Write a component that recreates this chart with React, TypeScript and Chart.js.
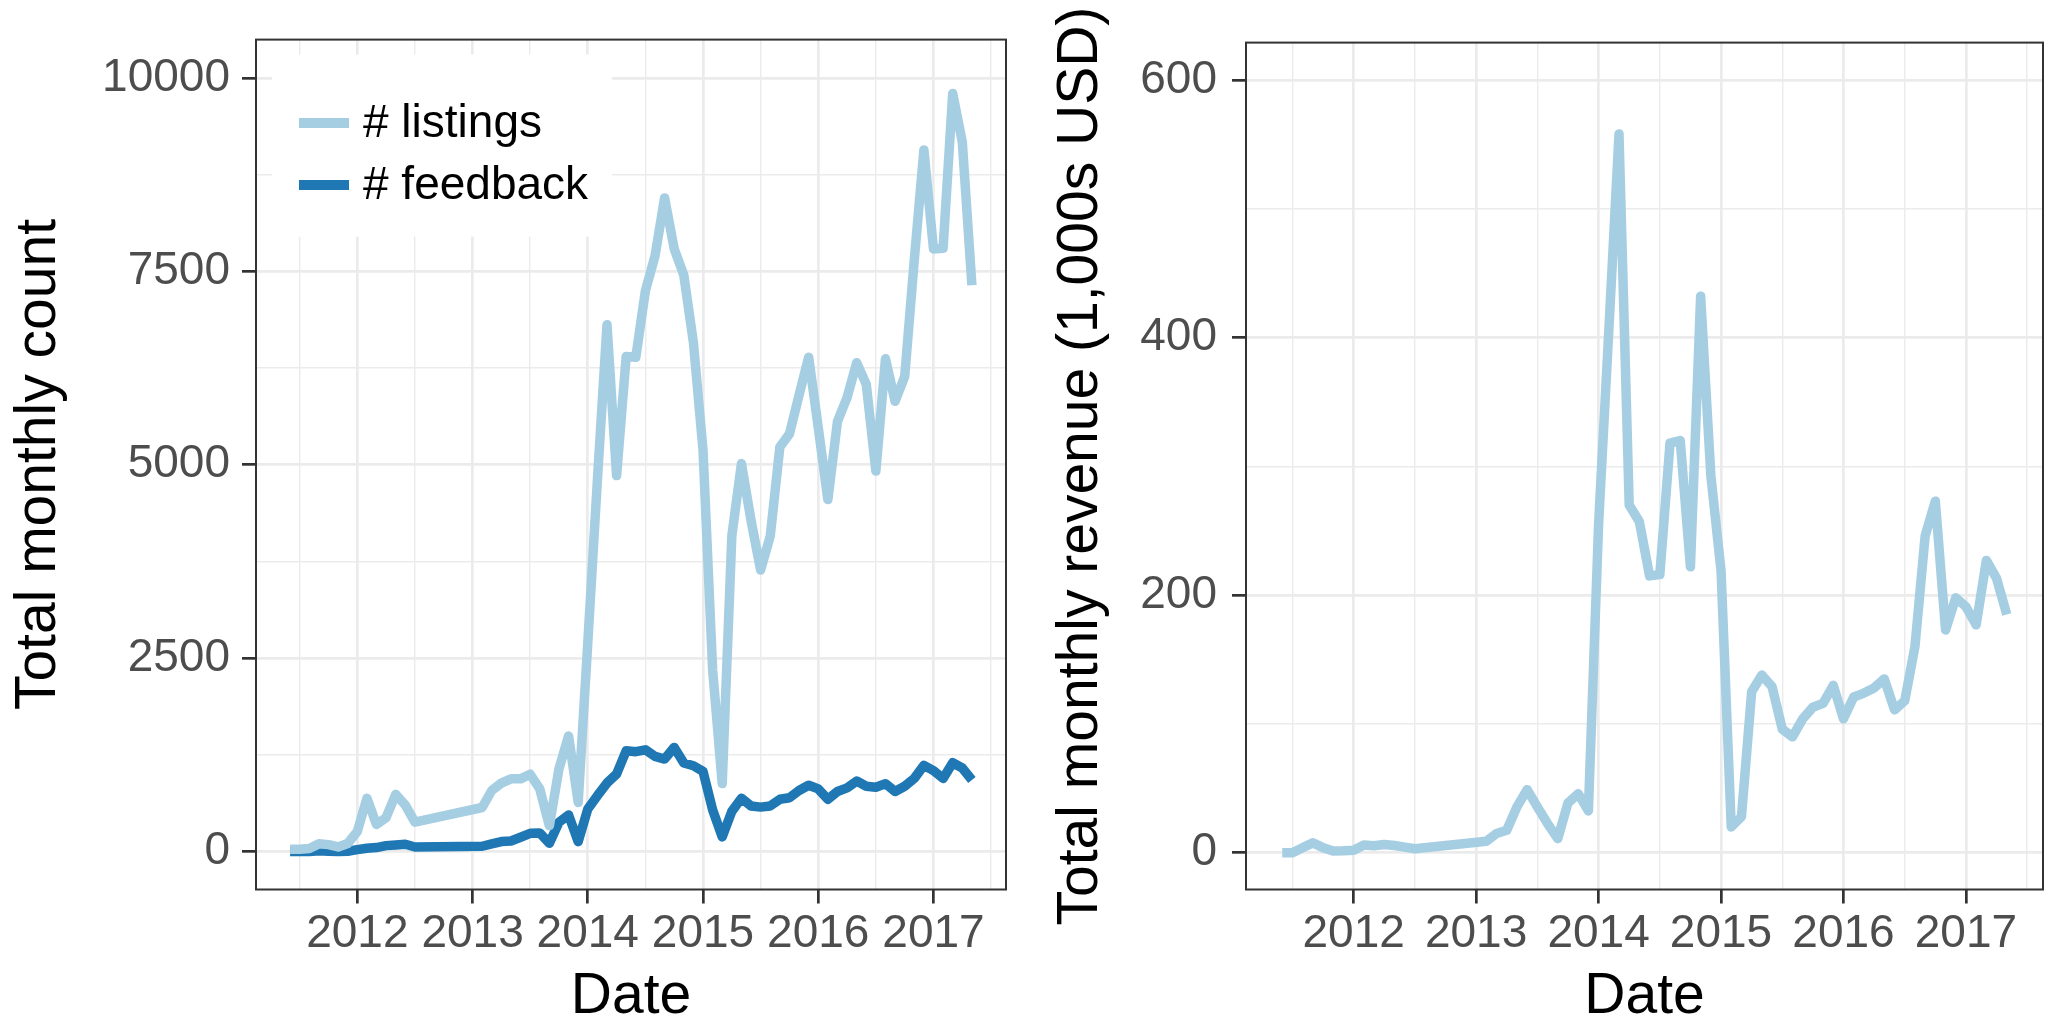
import React, { useEffect, useRef } from "react";
import { Chart, registerables } from "chart.js";

Chart.register(...registerables);

// ---------------- data ----------------
const months = [
  "2011-06", "2011-07", "2011-08", "2011-09", "2011-10", "2011-11", "2011-12",
  "2012-01", "2012-02", "2012-03", "2012-04", "2012-05", "2012-06", "2012-07",
  "2013-02", "2013-03", "2013-04", "2013-05", "2013-06", "2013-07", "2013-08", "2013-09", "2013-10", "2013-11", "2013-12",
  "2014-01", "2014-02", "2014-03", "2014-04", "2014-05", "2014-06", "2014-07", "2014-08", "2014-09", "2014-10", "2014-11", "2014-12",
  "2015-01", "2015-02", "2015-03", "2015-04", "2015-05", "2015-06", "2015-07", "2015-08", "2015-09", "2015-10", "2015-11", "2015-12",
  "2016-01", "2016-02", "2016-03", "2016-04", "2016-05", "2016-06", "2016-07", "2016-08", "2016-09", "2016-10", "2016-11", "2016-12",
  "2017-01", "2017-02", "2017-03", "2017-04", "2017-05",
];

const listings = [
  30, 30, 40, 100, 90, 60, 105,
  260, 690, 350, 440, 740, 600, 380,
  570, 790, 885, 940, 940, 1000, 810, 335, 1070, 1495, 636,
  2700, 4800, 6810, 4860, 6400, 6390, 7250, 7700, 8450, 7790, 7450, 6580,
  5190, 2350, 880, 4080, 5015, 4280, 3640, 4080, 5230, 5400, 5900, 6390,
  5480, 4550, 5560, 5870, 6320, 6040, 4920, 6370, 5820, 6140, 7650, 9070,
  7790, 7800, 9800, 9170, 7320,
];

const feedback = [
  0, 0, 0, 10, 5, 0, 5,
  25, 43, 52, 77, 86, 95, 60,
  69, 99, 129, 137, 185, 236, 240, 107, 378, 473, 129,
  551, 723, 886, 1003, 1304, 1291, 1316, 1231, 1196, 1347, 1145, 1110,
  1037, 540, 190, 520, 690, 590, 575, 590, 676, 696, 790, 858,
  810, 676, 777, 824, 912, 845, 831, 878, 777, 845, 946, 1115,
  1047, 946, 1148, 1081, 926,
];

const revenue = [
  0, 0, 4, 7.7, 4, 1.3, 1.5,
  2, 6, 5.4, 6.4, 5.7, 4.4, 3.1,
  9, 15, 17.5, 35.6, 49, 35.6, 22.7, 11, 38.7, 45.9, 32.5,
  255, 405, 558, 270, 257, 215, 216, 318, 320, 222, 432, 293,
  219, 20, 28, 125, 138, 129, 96, 90, 104, 113, 116, 130,
  104, 121, 124, 128, 135, 111, 118, 160, 246, 273, 173, 198,
  191, 177, 227, 213, 185,
];

const yearTicks = [2012, 2013, 2014, 2015, 2016, 2017];
const countTicks = [0, 2500, 5000, 7500, 10000];
const revenueTicks = [0, 200, 400, 600];
const countRange = [-490, 10496];
const revenueRange = [-28.5, 629];

const seriesLabels = ["# listings", "# feedback"];
const countTitle = "Total monthly count";
const revenueTitle = "Total monthly revenue (1,000s USD)";
const xTitle = "Date";

// ---------------- helpers ----------------
const FONT = '"Liberation Sans", Arial, Helvetica, sans-serif';
const LIGHT = "#A6CEE3";
const DARK = "#1F78B4";
const GRID = "#EBEBEB";
const AXIS = "#333333";
const TICKTXT = "#4D4D4D";

const toYear = (m: string) => {
  const [y, mo] = m.split("-").map(Number);
  return y + (mo - 1) / 12;
};
const xs = months.map(toYear);
const xMin = Math.min(...xs);
const xMax = Math.max(...xs);
const xPad = (xMax - xMin) * 0.05;
const xLo = xMin - xPad;
const xHi = xMax + xPad;

function withMinor(majors: number[], lo: number, hi: number) {
  const step = majors[1] - majors[0];
  const out: number[] = [];
  const start = majors[0] - step;
  for (let v = start; v <= majors[majors.length - 1] + step + 1e-9; v += step / 2) {
    if (v >= lo - 1e-9 && v <= hi + 1e-9) out.push(+v.toFixed(6));
  }
  return out;
}

const isIn = (v: number, list: number[]) => list.some((m) => Math.abs(m - v) < 1e-6);

function makeAxisX(majors: number[]) {
  const all = withMinor(majors, xLo, xHi);
  return {
    type: "linear",
    min: xLo,
    max: xHi,
    afterBuildTicks: (scale: any) => {
      scale.ticks = all.map((v) => ({ value: v }));
    },
    afterFit: (scale: any) => {
      scale.height = 137.5;
    },
    ticks: {
      autoSkip: false,
      maxRotation: 0,
      minRotation: 0,
      padding: 7.5,
      color: TICKTXT,
      font: { family: FONT, size: 46, lineHeight: 1 },
      callback: (v: number) => (isIn(v, majors) ? String(Math.round(v)) : ""),
    },
    grid: {
      color: GRID,
      lineWidth: (c: any) => (c.tick && isIn(c.tick.value, majors) ? 2.7 : 1.4),
      drawTicks: true,
      tickLength: 14,
      tickWidth: 2.7,
      tickColor: (c: any) => (c.tick && isIn(c.tick.value, majors) ? AXIS : "rgba(0,0,0,0)"),
    },
    border: { display: false },
    title: {
      display: true,
      text: xTitle,
      color: "#000000",
      font: { family: FONT, size: 57, lineHeight: 1 },
      padding: { top: 0, bottom: 1.5 },
    },
  };
}

function makeAxisY(majors: number[], range: number[], width: number, pad: number, title: string, titlePad: number) {
  const all = withMinor(majors, range[0], range[1]);
  return {
    type: "linear",
    min: range[0],
    max: range[1],
    afterBuildTicks: (scale: any) => {
      scale.ticks = all.map((v) => ({ value: v }));
    },
    afterFit: (scale: any) => {
      scale.width = width;
    },
    ticks: {
      autoSkip: false,
      padding: pad,
      color: TICKTXT,
      font: { family: FONT, size: 46, lineHeight: 1.2 },
      callback: (v: number) => (isIn(v, majors) ? String(Math.round(v)) : ""),
    },
    grid: {
      color: GRID,
      lineWidth: (c: any) => (c.tick && isIn(c.tick.value, majors) ? 2.7 : 1.4),
      drawTicks: true,
      tickLength: 14,
      tickWidth: 2.7,
      tickColor: (c: any) => (c.tick && isIn(c.tick.value, majors) ? AXIS : "rgba(0,0,0,0)"),
    },
    border: { display: false },
    title: {
      display: true,
      text: title,
      color: "#000000",
      font: { family: FONT, size: 57, lineHeight: 1 },
      padding: { top: titlePad, bottom: 0 },
    },
  };
}

const panelBorder = {
  id: "panelBorder",
  afterDatasetsDraw(chart: any) {
    const { ctx, chartArea: a } = chart;
    ctx.save();
    ctx.strokeStyle = AXIS;
    ctx.lineWidth = 2;
    ctx.strokeRect(a.left, a.top, a.right - a.left, a.bottom - a.top);
    ctx.restore();
  },
};

const insideLegend = {
  id: "insideLegend",
  afterDraw(chart: any) {
    const { ctx, chartArea: a } = chart;
    ctx.save();
    ctx.fillStyle = "#FFFFFF";
    ctx.fillRect(a.left + 16, a.top + 15, 340, 182);
    const rows = [a.top + 83.5, a.top + 145.5];
    chart.data.datasets.forEach((ds: any, i: number) => {
      const y = rows[i];
      ctx.strokeStyle = ds.borderColor;
      ctx.lineWidth = 10;
      ctx.lineCap = "butt";
      ctx.beginPath();
      ctx.moveTo(a.left + 43, y);
      ctx.lineTo(a.left + 93, y);
      ctx.stroke();
      ctx.fillStyle = "#000000";
      ctx.font = `46px ${FONT}`;
      ctx.textBaseline = "middle";
      ctx.textAlign = "left";
      ctx.fillText(ds.label, a.left + 107, y + 1);
    });
    ctx.restore();
  },
};

function lineDataset(label: string, values: number[], color: string) {
  return {
    label,
    data: xs.map((x, i) => ({ x, y: values[i] })),
    borderColor: color,
    backgroundColor: color,
    borderWidth: 9.5,
    pointRadius: 0,
    pointHoverRadius: 0,
    tension: 0,
    fill: false,
    borderJoinStyle: "round",
    borderCapStyle: "butt",
  };
}

function baseOptions(rightPad: number, yAxis: any) {
  return {
    responsive: false,
    maintainAspectRatio: false,
    animation: false,
    devicePixelRatio: 1,
    events: [],
    layout: { padding: { top: 39, right: rightPad, bottom: 0, left: 0 } },
    plugins: { legend: { display: false }, tooltip: { enabled: false } },
    scales: { x: makeAxisX(yearTicks), y: yAxis },
  };
}

function countConfig(): any {
  return {
    type: "line",
    data: {
      datasets: [
        lineDataset(seriesLabels[0], listings, LIGHT),
        lineDataset(seriesLabels[1], feedback, DARK),
      ],
    },
    options: baseOptions(14, makeAxisY(countTicks, countRange, 256, 12, countTitle, 11)),
    plugins: [panelBorder, insideLegend],
  };
}

function revenueConfig(): any {
  return {
    type: "line",
    data: {
      datasets: [lineDataset("revenue", revenue, LIGHT)],
    },
    options: baseOptions(2, makeAxisY(revenueTicks, revenueRange, 226, 15, revenueTitle, 33)),
    plugins: [panelBorder],
  };
}

function Panel({ make, left, width }: { make: () => any; left: number; width: number }) {
  const ref = useRef<HTMLCanvasElement>(null);
  useEffect(() => {
    if (!ref.current) return;
    const chart = new Chart(ref.current, make());
    return () => chart.destroy();
  }, []);
  return (
    <canvas
      ref={ref}
      width={width}
      height={1027}
      style={{ position: "absolute", left, top: 0, width, height: 1027 }}
    />
  );
}

export default function App() {
  return (
    <div
      style={{
        position: "fixed",
        left: 0,
        top: 0,
        width: 2045,
        height: 1027,
        background: "#FFFFFF",
        overflow: "hidden",
      }}
    >
      <Panel make={countConfig} left={0} width={1020} />
      <Panel make={revenueConfig} left={1020} width={1025} />
    </div>
  );
}
